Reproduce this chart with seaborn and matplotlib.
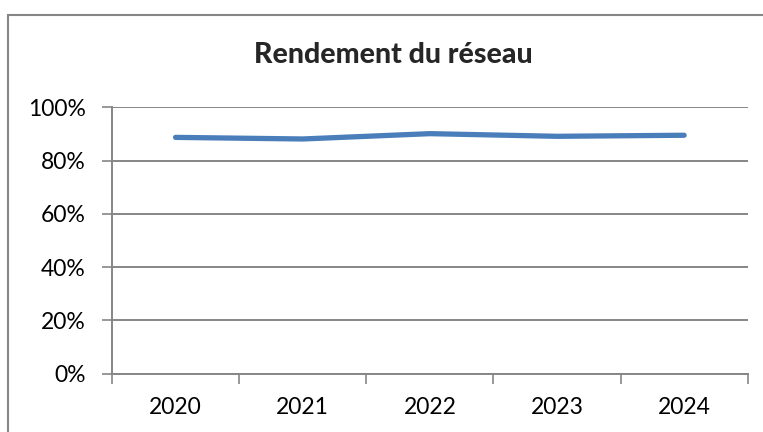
import matplotlib
matplotlib.use("Agg")
import matplotlib.pyplot as plt
from matplotlib.patches import Rectangle
from matplotlib.ticker import FixedLocator, FuncFormatter
import seaborn as sns
import pandas as pd

# données
annees = ["2020", "2021", "2022", "2023", "2024"]
rendement = [0.887, 0.881, 0.901, 0.891, 0.895]
y_ticks = [0, 0.2, 0.4, 0.6, 0.8, 1.0]

sns.set_style("white")
plt.rcParams["font.family"] = ["Lato", "DejaVu Sans"]

df = pd.DataFrame({"annee": annees, "rendement": rendement})

fig = plt.figure(figsize=(7.63, 4.32), dpi=100)
ax = fig.add_axes([112 / 763, 58.5 / 432, 635.7 / 763, 266.2 / 432])

sns.lineplot(data=df, x="annee", y="rendement", ax=ax, color="#4A7EBB",
             linewidth=3.8, solid_capstyle="round", sort=False)

ax.set_ylim(0, 1.0)
ax.set_xlim(-0.5, len(annees) - 0.5)
ax.yaxis.set_major_locator(FixedLocator(y_ticks))
ax.yaxis.set_major_formatter(FuncFormatter(lambda v, p: f"{v * 100:.0f}%"))
ax.grid(axis="y", color="#868686", linewidth=1.4)
ax.set_axisbelow(True)

# graduations entre les catégories, étiquettes au centre
ax.set_xticks([i - 0.5 for i in range(len(annees) + 1)])
ax.set_xticklabels([])
ax.set_xticks(range(len(annees)), minor=True)
ax.set_xticklabels(annees, minor=True)
ax.tick_params(axis="x", which="major", direction="out", length=7, width=1.2, color="#868686", bottom=True)
ax.tick_params(axis="x", which="minor", length=0, pad=17, labelsize=16.5, labelcolor="black")
ax.tick_params(axis="y", direction="out", length=7, width=1.2, color="#868686", left=True,
               pad=12, labelsize=16.5, labelcolor="black")

for s in ["top", "right"]:
    ax.spines[s].set_visible(False)
for s in ["left", "bottom"]:
    ax.spines[s].set_color("#868686")
    ax.spines[s].set_linewidth(1.4)

ax.set_xlabel("")
ax.set_ylabel("")

fig.text(393 / 763, 1 - 55 / 432, "Rendement du réseau", ha="center", va="center",
         fontsize=20.5, fontweight="black")

# cadre du graphique (bords gauche et haut visibles)
fig.patches.append(Rectangle((7.5 / 763, -0.1), 1.2, 1 - 14.5 / 432 + 0.1,
                             transform=fig.transFigure, fill=False,
                             edgecolor="#868686", linewidth=1.5))

fig.savefig("out.png", dpi=100)
